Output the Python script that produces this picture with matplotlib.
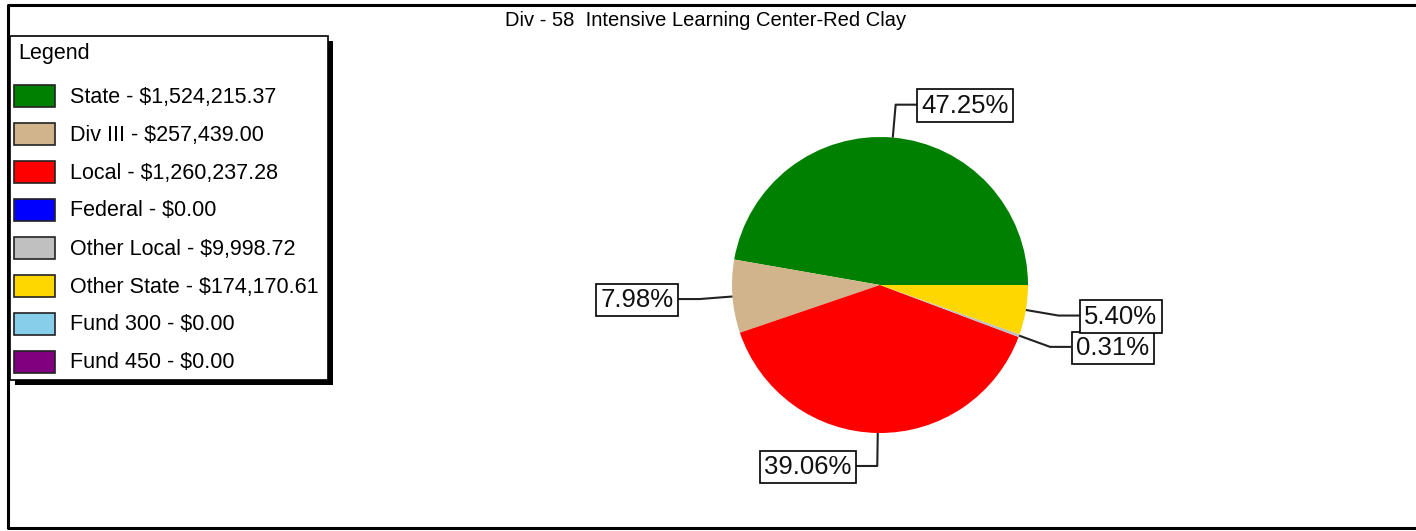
import numpy as np
import matplotlib
matplotlib.use("Agg")
import matplotlib.pyplot as plt
import matplotlib.patches as patches

TITLE = "Div - 58  Intensive Learning Center-Red Clay"

categories = ["State", "Div III", "Local", "Federal", "Other Local",
              "Other State", "Fund 300", "Fund 450"]
amounts = [1524215.37, 257439.00, 1260237.28, 0.00, 9998.72,
           174170.61, 0.00, 0.00]
colors = ["#008000", "#D2B48C", "#FF0000", "#0000FF", "#C0C0C0",
          "#FFD700", "#87CEEB", "#800080"]

FONT = ["Liberation Sans", "DejaVu Sans"]

W, H = 1416, 531
fig = plt.figure(figsize=(W / 100, H / 100), dpi=100)
ax = fig.add_axes([0, 0, 1, 1])

# pie in pixel coordinates (y down)
cx, cy, r = 880, 285, 148
wedges, _ = ax.pie(amounts, colors=colors, startangle=0, counterclock=False,
                   center=(cx, cy), radius=r, frame=True,
                   wedgeprops=dict(linewidth=0))

total = sum(amounts)
for w, val in zip(wedges, amounts):
    if val <= 0:
        continue
    t = np.deg2rad((w.theta1 + w.theta2) / 2)
    x0, y0 = cx + r * np.cos(t), cy + r * np.sin(t)
    x1, y1 = cx + (r + 33) * np.cos(t), cy + (r + 33) * np.sin(t)
    side = 1 if np.cos(t) >= 0 else -1
    x2 = x1 + side * 21
    ax.plot([x0, x1, x2], [y0, y1, y1], color="#222222", lw=1.5,
            solid_capstyle="butt", zorder=3)
    ax.text(x2 + side * 5, y1 + 1, f"{val / total * 100:.2f}%",
            ha="left" if side > 0 else "right", va="center",
            fontsize=18.5, family=FONT, color="#111111", zorder=4,
            bbox=dict(boxstyle="square,pad=0.17", fc="white", ec="black", lw=1.2))

# outer frame
ax.plot([W, 8, 8, W], [5, 5, 528, 528], color="black", lw=2.2, zorder=1)

# title
ax.text(706, 21, TITLE, ha="center", va="center", fontsize=14.5, family=FONT)

# legend box with shadow
ax.add_patch(patches.Rectangle((15, 41), 318, 344, fc="black", ec="none", zorder=5))
ax.add_patch(patches.Rectangle((10, 36), 318, 344, fc="white", ec="black", lw=1.2, zorder=6))
ax.text(18, 54, "Legend", ha="left", va="center", fontsize=15.5, family=FONT, zorder=7)
for i, (name, amt, col) in enumerate(zip(categories, amounts, colors)):
    yc = 96 + i * 38
    ax.add_patch(patches.Rectangle((14, yc - 11), 41, 22, fc=col, ec="#222222",
                                   lw=1.2, zorder=7))
    ax.text(70, yc + 1, f"{name} - ${amt:,.2f}", ha="left", va="center",
            fontsize=15.5, family=FONT, zorder=7)

ax.set_xlim(0, W)
ax.set_ylim(H, 0)
ax.set_aspect("auto")
ax.axis("off")

fig.savefig("out.png", dpi=100, facecolor="white")
